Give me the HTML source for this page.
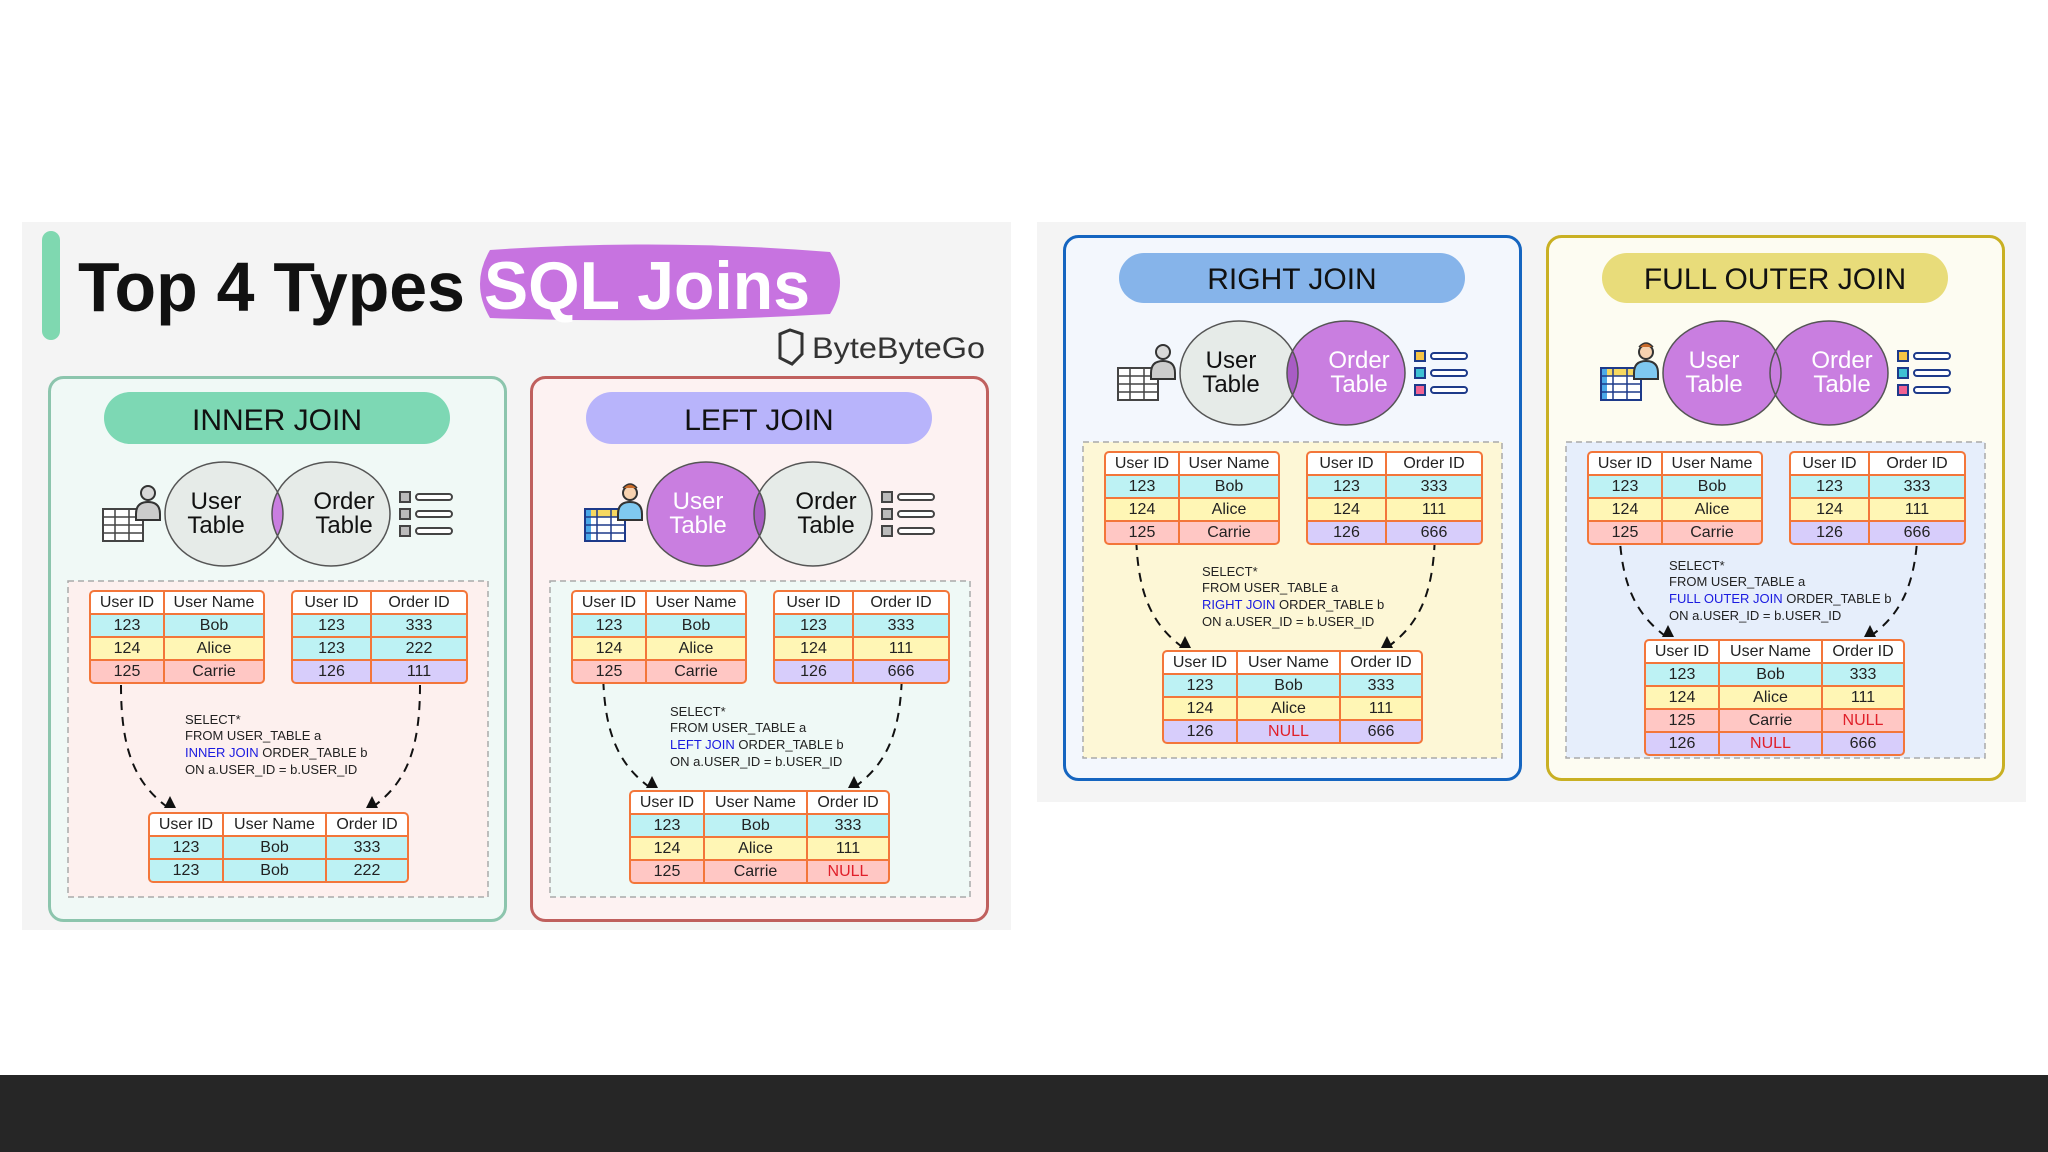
<!DOCTYPE html>
<html><head><meta charset="utf-8"><style>
body{margin:0;width:2048px;height:1152px;background:#fff;position:relative;overflow:hidden;font-family:"Liberation Sans",sans-serif}
svg.main{position:absolute;left:0;top:0}
.t{position:absolute;border:2px solid #f3763a;border-radius:5px;overflow:hidden;display:grid;background:#f3763a;gap:2px;font-size:16px;color:#222}
.t div{height:21px;line-height:21px;text-align:center;white-space:nowrap}
.a{grid-template-columns:72px 98px}
.b{grid-template-columns:77px 94px}
.r{grid-template-columns:72px 101px 80px}
.h{background:#fff}.c{background:#bdf2f4}.y{background:#fff6b5}.p{background:#ffc7c4}.v{background:#d7cdfb}
.n{color:#e0202a}
</style></head><body>
<svg class="main" width="2048" height="1152" viewBox="0 0 2048 1152" font-family="Liberation Sans, sans-serif">
<defs>
<g id="person">
 <circle cx="100" cy="117" r="7" fill="#d8d8d8" stroke="#333" stroke-width="2"/>
 <path d="M88 138 q0 -12 12 -12 q12 0 12 12 v6 h-24z" fill="#ccc" stroke="#333" stroke-width="2"/>
</g>
<g id="grid">
 <rect x="55" y="133" width="40" height="32" fill="#fff" stroke="#444" stroke-width="2"/>
 <path d="M55 141h40M55 149h40M55 157h40M67 133v32M81 133v32" stroke="#444" stroke-width="1.5"/>
</g>
<g id="listg">
 <rect x="352" y="116" width="10" height="10" fill="#bbb" stroke="#444" stroke-width="2"/>
 <rect x="352" y="133" width="10" height="10" fill="#bbb" stroke="#444" stroke-width="2"/>
 <rect x="352" y="150" width="10" height="10" fill="#bbb" stroke="#444" stroke-width="2"/>
 <rect x="368" y="118" width="36" height="6" rx="3" fill="#fff" stroke="#444" stroke-width="2"/>
 <rect x="368" y="135" width="36" height="6" rx="3" fill="#fff" stroke="#444" stroke-width="2"/>
 <rect x="368" y="152" width="36" height="6" rx="3" fill="#fff" stroke="#444" stroke-width="2"/>
</g>
<g id="listc">
 <rect x="352" y="116" width="10" height="10" fill="#f6c445" stroke="#1d3a8a" stroke-width="2"/>
 <rect x="352" y="133" width="10" height="10" fill="#3ec1d3" stroke="#1d3a8a" stroke-width="2"/>
 <rect x="352" y="150" width="10" height="10" fill="#f06292" stroke="#1d3a8a" stroke-width="2"/>
 <rect x="368" y="118" width="36" height="6" rx="3" fill="#fff" stroke="#1d3a8a" stroke-width="2"/>
 <rect x="368" y="135" width="36" height="6" rx="3" fill="#fff" stroke="#1d3a8a" stroke-width="2"/>
 <rect x="368" y="152" width="36" height="6" rx="3" fill="#fff" stroke="#1d3a8a" stroke-width="2"/>
</g>
<g id="gridc">
 <rect x="55" y="133" width="40" height="32" fill="#fff" stroke="#1d3a8a" stroke-width="2"/>
 <rect x="55" y="133" width="40" height="8" fill="#f6d860"/>
 <rect x="55" y="133" width="6" height="32" fill="#4aa8e8"/>
 <path d="M55 141h40M55 149h40M55 157h40M67 133v32M81 133v32" stroke="#1d3a8a" stroke-width="1.5"/>
 <rect x="55" y="133" width="40" height="32" fill="none" stroke="#1d3a8a" stroke-width="2"/>
</g>
<g id="personc">
 <circle cx="100" cy="117" r="7" fill="#f7d2b0" stroke="#333" stroke-width="2"/>
 <path d="M93 112 q7 -8 14 0" fill="#c86a2a" stroke="#333" stroke-width="1.5"/>
 <path d="M88 138 q0 -12 12 -12 q12 0 12 12 v6 h-24z" fill="#7fc8f0" stroke="#333" stroke-width="2"/>
</g>
<clipPath id="cu"><ellipse cx="176" cy="138" rx="59" ry="52"/></clipPath>
<g id="dash">
 <path d="M73 309 C73 370 85 405 118 430" fill="none" stroke="#111" stroke-width="2" stroke-dasharray="9 7"/>
 <path d="M372 309 C372 370 360 405 326 430" fill="none" stroke="#111" stroke-width="2" stroke-dasharray="9 7"/>
</g>
</defs>

<rect x="22" y="222" width="989" height="708" fill="#f4f4f4"/>
<rect x="1037" y="222" width="989" height="580" fill="#f4f4f4"/>
<rect x="0" y="1075" width="2048" height="77" fill="#262626"/>

<rect x="42" y="231" width="18" height="109" rx="9" fill="#7fd8b0"/>
<text x="78" y="311" font-size="70" font-weight="bold" fill="#111" textLength="387" lengthAdjust="spacingAndGlyphs">Top 4 Types</text>
<path d="M490 250 Q660 238 830 252 Q850 282 830 314 Q660 324 490 318 Q470 284 490 250Z" fill="#c773e0"/>
<text x="484" y="309" font-size="68" font-weight="bold" fill="#fff" textLength="326" lengthAdjust="spacingAndGlyphs">SQL Joins</text>
<path d="M780 334 l10 -4 l12 4 v20 l-10 10 l-12 -6z" fill="none" stroke="#333" stroke-width="3"/>
<text x="812" y="358" font-size="30" fill="#333" textLength="173" lengthAdjust="spacingAndGlyphs">ByteByteGo</text>

<!-- INNER -->
<g transform="translate(48,376)">
 <rect x="1.5" y="1.5" width="456" height="543" rx="14" fill="#f0f9f6" stroke="#8cc5ad" stroke-width="3"/>
 <rect x="56" y="16" width="346" height="52" rx="26" fill="#7dd8b4"/>
 <text x="229" y="54" font-size="30" text-anchor="middle" fill="#111">INNER JOIN</text>
 <use href="#grid"/><use href="#person"/><use href="#listg"/>
 <ellipse cx="176" cy="138" rx="59" ry="52" fill="#e6ebe8"/>
 <ellipse cx="283" cy="138" rx="59" ry="52" fill="#e6ebe8"/>
 <ellipse cx="283" cy="138" rx="59" ry="52" fill="#c97ee0" clip-path="url(#cu)"/>
 <ellipse cx="176" cy="138" rx="59" ry="52" fill="none" stroke="#555" stroke-width="1.5"/>
 <ellipse cx="283" cy="138" rx="59" ry="52" fill="none" stroke="#555" stroke-width="1.5"/>
 <text font-size="24" fill="#111" text-anchor="middle"><tspan x="168" y="133">User</tspan><tspan x="168" y="157">Table</tspan><tspan x="296" y="133">Order</tspan><tspan x="296" y="157">Table</tspan></text>
 <rect x="20" y="205" width="420" height="316" fill="#fdf0ee" stroke="#aaa" stroke-width="1.5" stroke-dasharray="6 4"/>
 <use href="#dash"/>
 <path d="M116 432 l6 -12 l6 12z" fill="#111"/><path d="M318 432 l6 -12 l6 12z" fill="#111"/>
 <text font-size="13" fill="#222"><tspan x="137" y="348">SELECT*</tspan><tspan x="137" y="364">FROM USER_TABLE a</tspan><tspan x="137" y="381"><tspan fill="#1a1ae0">INNER JOIN</tspan> ORDER_TABLE b</tspan><tspan x="137" y="398">ON a.USER_ID = b.USER_ID</tspan></text>
</g>

<!-- LEFT -->
<g transform="translate(530,376)">
 <rect x="1.5" y="1.5" width="456" height="543" rx="14" fill="#fdf2f2" stroke="#c0605e" stroke-width="3"/>
 <rect x="56" y="16" width="346" height="52" rx="26" fill="#b8b4fb"/>
 <text x="229" y="54" font-size="30" text-anchor="middle" fill="#111">LEFT JOIN</text>
 <use href="#gridc"/><use href="#personc"/><use href="#listg"/>
 <ellipse cx="176" cy="138" rx="59" ry="52" fill="#c97ee0"/>
 <ellipse cx="283" cy="138" rx="59" ry="52" fill="#e6ebe8"/>
 <ellipse cx="283" cy="138" rx="59" ry="52" fill="#a85cc4" clip-path="url(#cu)"/>
 <ellipse cx="176" cy="138" rx="59" ry="52" fill="none" stroke="#555" stroke-width="1.5"/>
 <ellipse cx="283" cy="138" rx="59" ry="52" fill="none" stroke="#555" stroke-width="1.5"/>
 <text font-size="24" text-anchor="middle"><tspan x="168" y="133" fill="#fff">User</tspan><tspan x="168" y="157" fill="#fff">Table</tspan><tspan x="296" y="133" fill="#111">Order</tspan><tspan x="296" y="157" fill="#111">Table</tspan></text>
 <rect x="20" y="205" width="420" height="316" fill="#eff9f6" stroke="#aaa" stroke-width="1.5" stroke-dasharray="6 4"/>
 <g transform="translate(0,-20)"><use href="#dash"/><path d="M116 432 l6 -12 l6 12z" fill="#111"/><path d="M318 432 l6 -12 l6 12z" fill="#111"/></g>
 <text font-size="13" fill="#222"><tspan x="140" y="340">SELECT*</tspan><tspan x="140" y="356">FROM USER_TABLE a</tspan><tspan x="140" y="373"><tspan fill="#1a1ae0">LEFT JOIN</tspan> ORDER_TABLE b</tspan><tspan x="140" y="390">ON a.USER_ID = b.USER_ID</tspan></text>
</g>

<!-- RIGHT -->
<g transform="translate(1063,235)">
 <rect x="1.5" y="1.5" width="456" height="543" rx="14" fill="#f3f7fd" stroke="#1565c0" stroke-width="3"/>
 <rect x="56" y="18" width="346" height="50" rx="25" fill="#86b4ea"/>
 <text x="229" y="54" font-size="30" text-anchor="middle" fill="#111">RIGHT JOIN</text>
 <use href="#grid"/><use href="#person"/><use href="#listc"/>
 <ellipse cx="176" cy="138" rx="59" ry="52" fill="#e6ebe8"/>
 <ellipse cx="283" cy="138" rx="59" ry="52" fill="#c97ee0"/>
 <ellipse cx="283" cy="138" rx="59" ry="52" fill="#a85cc4" clip-path="url(#cu)"/>
 <ellipse cx="176" cy="138" rx="59" ry="52" fill="none" stroke="#555" stroke-width="1.5"/>
 <ellipse cx="283" cy="138" rx="59" ry="52" fill="none" stroke="#555" stroke-width="1.5"/>
 <text font-size="24" text-anchor="middle"><tspan x="168" y="133" fill="#111">User</tspan><tspan x="168" y="157" fill="#111">Table</tspan><tspan x="296" y="133" fill="#fff">Order</tspan><tspan x="296" y="157" fill="#fff">Table</tspan></text>
 <rect x="20" y="207" width="419" height="316" fill="#fdf7d6" stroke="#aaa" stroke-width="1.5" stroke-dasharray="6 4"/>
 <g transform="translate(0,-19)"><use href="#dash"/><path d="M116 432 l6 -12 l6 12z" fill="#111"/><path d="M318 432 l6 -12 l6 12z" fill="#111"/></g>
 <text font-size="13" fill="#222"><tspan x="139" y="341">SELECT*</tspan><tspan x="139" y="357">FROM USER_TABLE a</tspan><tspan x="139" y="374"><tspan fill="#1a1ae0">RIGHT JOIN</tspan> ORDER_TABLE b</tspan><tspan x="139" y="391">ON a.USER_ID = b.USER_ID</tspan></text>
</g>

<!-- FULL -->
<g transform="translate(1546,235)">
 <rect x="1.5" y="1.5" width="456" height="543" rx="14" fill="#fdfcf2" stroke="#c9b023" stroke-width="3"/>
 <rect x="56" y="18" width="346" height="50" rx="25" fill="#e8dc7a"/>
 <text x="229" y="54" font-size="30" text-anchor="middle" fill="#111">FULL OUTER JOIN</text>
 <use href="#gridc"/><use href="#personc"/><use href="#listc"/>
 <ellipse cx="176" cy="138" rx="59" ry="52" fill="#c97ee0"/>
 <ellipse cx="283" cy="138" rx="59" ry="52" fill="#c97ee0"/>
 <ellipse cx="176" cy="138" rx="59" ry="52" fill="none" stroke="#555" stroke-width="1.5"/>
 <ellipse cx="283" cy="138" rx="59" ry="52" fill="none" stroke="#555" stroke-width="1.5"/>
 <text font-size="24" text-anchor="middle" fill="#fff"><tspan x="168" y="133">User</tspan><tspan x="168" y="157">Table</tspan><tspan x="296" y="133">Order</tspan><tspan x="296" y="157">Table</tspan></text>
 <rect x="20" y="207" width="419" height="316" fill="#e6eefb" stroke="#aaa" stroke-width="1.5" stroke-dasharray="6 4"/>
 <g transform="translate(0,-30)"><use href="#dash"/><path d="M116 432 l6 -12 l6 12z" fill="#111"/><path d="M318 432 l6 -12 l6 12z" fill="#111"/></g>
 <text font-size="13" fill="#222"><tspan x="123" y="335">SELECT*</tspan><tspan x="123" y="351">FROM USER_TABLE a</tspan><tspan x="123" y="368"><tspan fill="#1a1ae0">FULL OUTER JOIN</tspan> ORDER_TABLE b</tspan><tspan x="123" y="385">ON a.USER_ID = b.USER_ID</tspan></text>
</g>
</svg>

<!-- INNER tables -->
<div class="t a" style="left:89px;top:590px"><div class="h">User ID</div><div class="h">User Name</div><div class="c">123</div><div class="c">Bob</div><div class="y">124</div><div class="y">Alice</div><div class="p">125</div><div class="p">Carrie</div></div>
<div class="t b" style="left:291px;top:590px"><div class="h">User ID</div><div class="h">Order ID</div><div class="c">123</div><div class="c">333</div><div class="c">123</div><div class="c">222</div><div class="v">126</div><div class="v">111</div></div>
<div class="t r" style="left:148px;top:812px"><div class="h">User ID</div><div class="h">User Name</div><div class="h">Order ID</div><div class="c">123</div><div class="c">Bob</div><div class="c">333</div><div class="c">123</div><div class="c">Bob</div><div class="c">222</div></div>

<!-- LEFT tables -->
<div class="t a" style="left:571px;top:590px"><div class="h">User ID</div><div class="h">User Name</div><div class="c">123</div><div class="c">Bob</div><div class="y">124</div><div class="y">Alice</div><div class="p">125</div><div class="p">Carrie</div></div>
<div class="t b" style="left:773px;top:590px"><div class="h">User ID</div><div class="h">Order ID</div><div class="c">123</div><div class="c">333</div><div class="y">124</div><div class="y">111</div><div class="v">126</div><div class="v">666</div></div>
<div class="t r" style="left:629px;top:790px"><div class="h">User ID</div><div class="h">User Name</div><div class="h">Order ID</div><div class="c">123</div><div class="c">Bob</div><div class="c">333</div><div class="y">124</div><div class="y">Alice</div><div class="y">111</div><div class="p">125</div><div class="p">Carrie</div><div class="p n">NULL</div></div>

<!-- RIGHT tables -->
<div class="t a" style="left:1104px;top:451px"><div class="h">User ID</div><div class="h">User Name</div><div class="c">123</div><div class="c">Bob</div><div class="y">124</div><div class="y">Alice</div><div class="p">125</div><div class="p">Carrie</div></div>
<div class="t b" style="left:1306px;top:451px"><div class="h">User ID</div><div class="h">Order ID</div><div class="c">123</div><div class="c">333</div><div class="y">124</div><div class="y">111</div><div class="v">126</div><div class="v">666</div></div>
<div class="t r" style="left:1162px;top:650px"><div class="h">User ID</div><div class="h">User Name</div><div class="h">Order ID</div><div class="c">123</div><div class="c">Bob</div><div class="c">333</div><div class="y">124</div><div class="y">Alice</div><div class="y">111</div><div class="v">126</div><div class="v n">NULL</div><div class="v">666</div></div>

<!-- FULL tables -->
<div class="t a" style="left:1587px;top:451px"><div class="h">User ID</div><div class="h">User Name</div><div class="c">123</div><div class="c">Bob</div><div class="y">124</div><div class="y">Alice</div><div class="p">125</div><div class="p">Carrie</div></div>
<div class="t b" style="left:1789px;top:451px"><div class="h">User ID</div><div class="h">Order ID</div><div class="c">123</div><div class="c">333</div><div class="y">124</div><div class="y">111</div><div class="v">126</div><div class="v">666</div></div>
<div class="t r" style="left:1644px;top:639px"><div class="h">User ID</div><div class="h">User Name</div><div class="h">Order ID</div><div class="c">123</div><div class="c">Bob</div><div class="c">333</div><div class="y">124</div><div class="y">Alice</div><div class="y">111</div><div class="p">125</div><div class="p">Carrie</div><div class="p n">NULL</div><div class="v">126</div><div class="v n">NULL</div><div class="v">666</div></div>
</body></html>
